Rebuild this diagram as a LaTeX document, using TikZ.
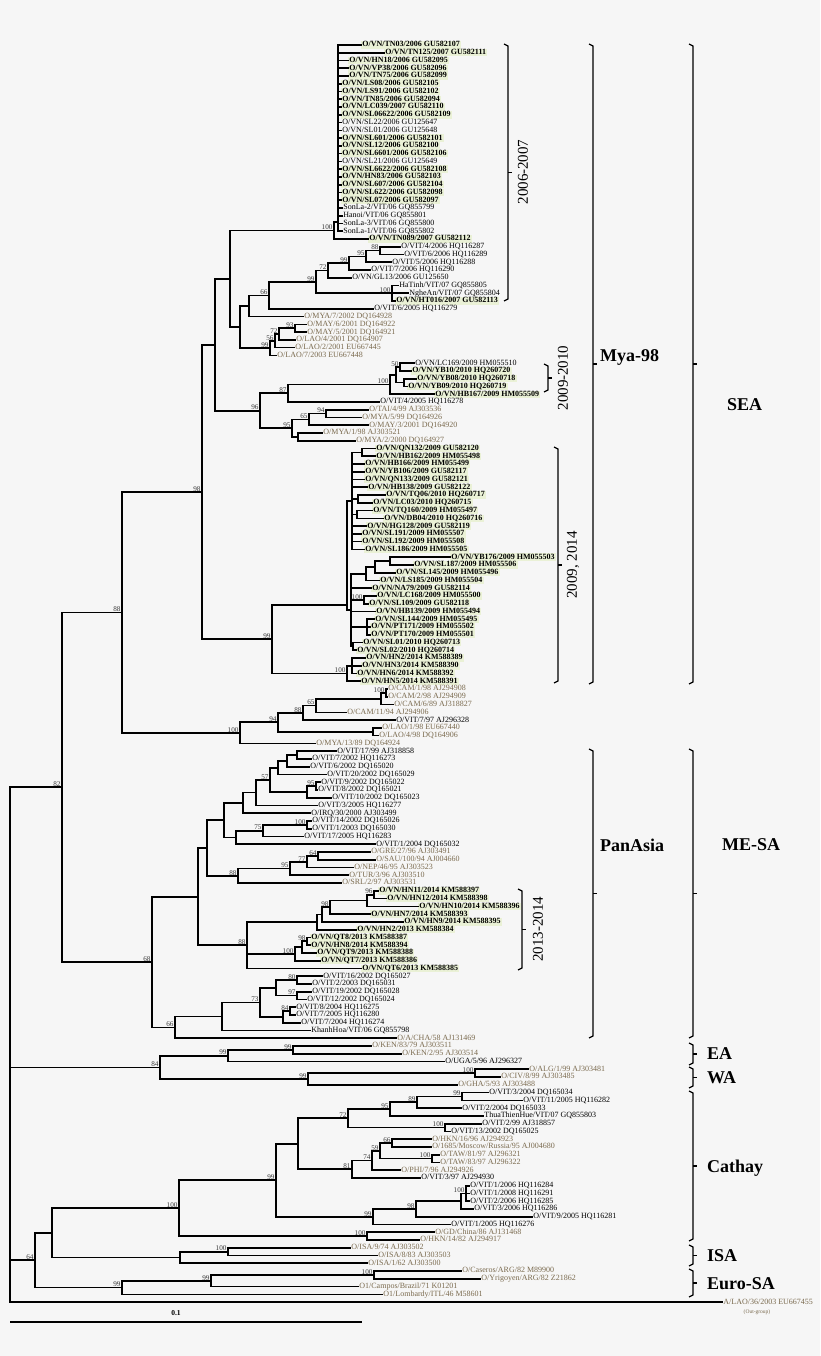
\documentclass[tikz,border=0pt]{standalone}
\usepackage{fontspec}
\setmainfont{Liberation Serif}
\usetikzlibrary{calc}
\definecolor{bg}{RGB}{246,246,246}
\definecolor{hl}{RGB}{234,241,214}
\definecolor{rf}{RGB}{122,106,78}
\definecolor{bsc}{RGB}{55,55,55}
\tikzset{
 br/.style={line width=1.7pt, line cap=rect},
 bk/.style={line width=1.3pt},
 lf/.style={anchor=west, inner xsep=1.2pt, inner ysep=0.2pt, text height=5.4pt, text depth=1.6pt, font=\fontsize{8}{8}\selectfont},
 vb/.style={lf, font=\fontsize{8}{8}\selectfont\bfseries, fill=hl},
 vk/.style={lf, text=black},
 vr/.style={lf, text=rf},
 bs/.style={anchor=south east, inner sep=0.5pt, xshift=-0.8pt, font=\fontsize{7.2}{7}\selectfont, text=bsc},
 grp/.style={anchor=west, inner sep=0pt, font=\fontsize{18}{18}\selectfont\bfseries},
 yr/.style={rotate=90, inner sep=0pt, font=\fontsize{15}{15}\selectfont}
}
\newcommand\LF[4]{\node[#4] (L#1) at (#2,{45+(#1-1)*7.76}) {#3};}
\newcommand\NDdraw[4]{%
 \draw[br] (#1 |- #2) -- (#1 |- #3);
 \foreach \c in {#4} {\draw[br] (#1 |- \c) -- (\c);}
}
\newcommand\ND[6]{%
 \path let \p1=($(#3)!.5!(#4)$) in (#2,\y1) coordinate (#1);
 \NDdraw{#1}{#3}{#4}{#5}%
 \if\relax\detokenize{#6}\relax\else\node[bs] at (#1) {#6};\fi
}
\newcommand\NDY[7]{%
 \coordinate (#1) at (#2,#3);
 \NDdraw{#1}{#4}{#5}{#6}%
 \if\relax\detokenize{#7}\relax\else\node[bs] at (#1) {#7};\fi
}
\newcommand\BRK[3]{%
 \draw[bk] (#1-4,#2) -- (#1,#2+2) -- (#1,#3-2) -- (#1-4,#3);
 \draw[bk] (#1,{(#2+#3)/2}) -- (#1+4,{(#2+#3)/2});
}
\begin{document}
\begin{tikzpicture}[x=1pt,y=-1pt]
\fill[bg] (0,0) rectangle (820,1356);
\useasboundingbox (0,0) rectangle (820,1356);
% ---------------- leaves
\LF{1}{361}{O/VN/TN03/2006 GU582107}{vb}
\LF{2}{384}{O/VN/TN125/2007 GU582111}{vb}
\LF{3}{348}{O/VN/HN18/2006 GU582095}{vb}
\LF{4}{348}{O/VN/VP38/2006 GU582096}{vb}
\LF{5}{348}{O/VN/TN75/2006 GU582099}{vb}
\LF{6}{341}{O/VN/LS08/2006 GU582105}{vb}
\LF{7}{341}{O/VN/LS91/2006 GU582102}{vb}
\LF{8}{341}{O/VN/TN85/2006 GU582094}{vb}
\LF{9}{341}{O/VN/LC039/2007 GU582110}{vb}
\LF{10}{341}{O/VN/SL06622/2006 GU582109}{vb}
\LF{11}{341}{O/VN/SL22/2006 GU125647}{vk}
\LF{12}{341}{O/VN/SL01/2006 GU125648}{vk}
\LF{13}{341}{O/VN/SL601/2006 GU582101}{vb}
\LF{14}{341}{O/VN/SL12/2006 GU582100}{vb}
\LF{15}{341}{O/VN/SL6601/2006 GU582106}{vb}
\LF{16}{341}{O/VN/SL21/2006 GU125649}{vk}
\LF{17}{341}{O/VN/SL6622/2006 GU582108}{vb}
\LF{18}{341}{O/VN/HN83/2006 GU582103}{vb}
\LF{19}{341}{O/VN/SL607/2006 GU582104}{vb}
\LF{20}{341}{O/VN/SL622/2006 GU582098}{vb}
\LF{21}{341}{O/VN/SL07/2006 GU582097}{vb}
\LF{22}{342}{SonLa-2/VIT/06 GQ855799}{vk}
\LF{23}{342}{Hanoi/VIT/06 GQ855801}{vk}
\LF{24}{342}{SonLa-3/VIT/06 GQ855800}{vk}
\LF{25}{342}{SonLa-1/VIT/06 GQ855802}{vk}
\LF{26}{368}{O/VN/TN089/2007 GU582112}{vb}
\LF{27}{400}{O/VIT/4/2006 HQ116287}{vk}
\LF{28}{403}{O/VIT/6/2006 HQ116289}{vk}
\LF{29}{391}{O/VIT/5/2006 HQ116288}{vk}
\LF{30}{370}{O/VIT/7/2006 HQ116290}{vk}
\LF{31}{351}{O/VN/GL13/2006 GU125650}{vk}
\LF{32}{398}{HaTinh/VIT/07 GQ855805}{vk}
\LF{33}{408}{NgheAn/VIT/07 GQ855804}{vk}
\LF{34}{395}{O/VN/HT016/2007 GU582113}{vb}
\LF{35}{373}{O/VIT/6/2005 HQ116279}{vk}
\LF{36}{303}{O/MYA/7/2002 DQ164928}{vr}
\LF{37}{306}{O/MAY/6/2001 DQ164922}{vr}
\LF{38}{306}{O/MAY/5/2001 DQ164921}{vr}
\LF{39}{295}{O/LAO/4/2001 DQ164907}{vr}
\LF{40}{294}{O/LAO/2/2001 EU667445}{vr}
\LF{41}{276}{O/LAO/7/2003 EU667448}{vr}
\LF{42}{414}{O/VN/LC169/2009 HM055510}{vk}
\LF{43}{411}{O/VN/YB10/2010 HQ260720}{vb}
\LF{44}{416}{O/VN/YB08/2010 HQ260718}{vb}
\LF{45}{407}{O/VN/YB09/2010 HQ260719}{vb}
\LF{46}{434}{O/VN/HB167/2009 HM055509}{vb}
\LF{47}{379}{O/VIT/4/2005 HQ116278}{vk}
\LF{48}{368}{O/TAI/4/99 AJ303536}{vr}
\LF{49}{361}{O/MYA/5/99 DQ164926}{vr}
\LF{50}{368}{O/MAY/3/2001 DQ164920}{vr}
\LF{51}{322}{O/MYA/1/98 AJ303521}{vr}
\LF{52}{355}{O/MYA/2/2000 DQ164927}{vr}
\LF{53}{375}{O/VN/QN132/2009 GU582120}{vb}
\LF{54}{375}{O/VN/HB162/2009 HM055498}{vb}
\LF{55}{364}{O/VN/HB166/2009 HM055499}{vb}
\LF{56}{364}{O/VN/YB106/2009 GU582117}{vb}
\LF{57}{364}{O/VN/QN133/2009 GU582121}{vb}
\LF{58}{367}{O/VN/HB138/2009 GU582122}{vb}
\LF{59}{385}{O/VN/TQ06/2010 HQ260717}{vb}
\LF{60}{372}{O/VN/LC03/2010 HQ260715}{vb}
\LF{61}{372}{O/VN/TQ160/2009 HM055497}{vb}
\LF{62}{383}{O/VN/DB04/2010 HQ260716}{vb}
\LF{63}{366}{O/VN/HG128/2009 GU582119}{vb}
\LF{64}{361}{O/VN/SL191/2009 HM055507}{vb}
\LF{65}{361}{O/VN/SL192/2009 HM055508}{vb}
\LF{66}{364}{O/VN/SL186/2009 HM055505}{vb}
\LF{67}{450}{O/VN/YB176/2009 HM055503}{vb}
\LF{68}{413}{O/VN/SL187/2009 HM055506}{vb}
\LF{69}{395}{O/VN/SL145/2009 HM055496}{vb}
\LF{70}{379}{O/VN/LS185/2009 HM055504}{vb}
\LF{71}{371}{O/VN/NA79/2009 GU582114}{vb}
\LF{72}{376}{O/VN/LC168/2009 HM055500}{vb}
\LF{73}{368}{O/VN/SL109/2009 GU582118}{vb}
\LF{74}{375}{O/VN/HB139/2009 HM055494}{vb}
\LF{75}{374}{O/VN/SL144/2009 HM055495}{vb}
\LF{76}{370}{O/VN/PT171/2009 HM055502}{vb}
\LF{77}{370}{O/VN/PT170/2009 HM055501}{vb}
\LF{78}{362}{O/VN/SL01/2010 HQ260713}{vb}
\LF{79}{356}{O/VN/SL02/2010 HQ260714}{vb}
\LF{80}{365}{O/VN/HN2/2014 KM588389}{vb}
\LF{81}{361}{O/VN/HN3/2014 KM588390}{vb}
\LF{82}{356}{O/VN/HN6/2014 KM588392}{vb}
\LF{83}{360}{O/VN/HN5/2014 KM588391}{vb}
\LF{84}{387}{O/CAM/1/98 AJ294908}{vr}
\LF{85}{387}{O/CAM/2/98 AJ294909}{vr}
\LF{86}{393}{O/CAM/6/89 AJ318827}{vr}
\LF{87}{346}{O/CAM/11/94 AJ294906}{vr}
\LF{88}{395}{O/VIT/7/97 AJ296328}{vk}
\LF{89}{381}{O/LAO/1/98 EU667440}{vr}
\LF{90}{378}{O/LAO/4/98 DQ164906}{vr}
\LF{91}{315}{O/MYA/13/89 DQ164924}{vr}
\LF{92}{336}{O/VIT/17/99 AJ318858}{vk}
\LF{93}{311}{O/VIT/7/2002 HQ116273}{vk}
\LF{94}{309}{O/VIT/6/2002 DQ165020}{vk}
\LF{95}{326}{O/VIT/20/2002 DQ165029}{vk}
\LF{96}{320}{O/VIT/9/2002 DQ165022}{vk}
\LF{97}{317}{O/VIT/8/2002 DQ165021}{vk}
\LF{98}{331}{O/VIT/10/2002 DQ165023}{vk}
\LF{99}{317}{O/VIT/3/2005 HQ116277}{vk}
\LF{100}{310}{O/IRQ/30/2000 AJ303499}{vk}
\LF{101}{311}{O/VIT/14/2002 DQ165026}{vk}
\LF{102}{311}{O/VIT/1/2003 DQ165030}{vk}
\LF{103}{303}{O/VIT/17/2005 HQ116283}{vk}
\LF{104}{375}{O/VIT/1/2004 DQ165032}{vk}
\LF{105}{370}{O/GRE/27/96 AJ303491}{vr}
\LF{106}{375}{O/SAU/100/94 AJ004660}{vr}
\LF{107}{353}{O/NEP/46/95 AJ303523}{vr}
\LF{108}{348}{O/TUR/3/96 AJ303510}{vr}
\LF{109}{341}{O/SRL/2/97 AJ303531}{vr}
\LF{110}{378}{O/VN/HN11/2014 KM588397}{vb}
\LF{111}{386}{O/VN/HN12/2014 KM588398}{vb}
\LF{112}{418}{O/VN/HN10/2014 KM588396}{vb}
\LF{113}{370}{O/VN/HN7/2014 KM588393}{vb}
\LF{114}{403}{O/VN/HN9/2014 KM588395}{vb}
\LF{115}{356}{O/VN/HN2/2013 KM588384}{vb}
\LF{116}{310}{O/VN/QT8/2013 KM588387}{vb}
\LF{117}{310}{O/VN/HN8/2014 KM588394}{vb}
\LF{118}{316}{O/VN/QT9/2013 KM588388}{vb}
\LF{119}{320}{O/VN/QT7/2013 KM588386}{vb}
\LF{120}{361}{O/VN/QT6/2013 KM588385}{vb}
\LF{121}{322}{O/VIT/16/2002 DQ165027}{vk}
\LF{122}{311}{O/VIT/2/2003 DQ165031}{vk}
\LF{123}{311}{O/VIT/19/2002 DQ165028}{vk}
\LF{124}{306}{O/VIT/12/2002 DQ165024}{vk}
\LF{125}{295}{O/VIT/8/2004 HQ116275}{vk}
\LF{126}{295}{O/VIT/7/2005 HQ116280}{vk}
\LF{127}{300}{O/VIT/7/2004 HQ116274}{vk}
\LF{128}{310}{KhanhHoa/VIT/06 GQ855798}{vk}
\LF{129}{396}{O/A/CHA/58 AJ131469}{vr}
\LF{130}{371}{O/KEN/83/79 AJ303511}{vr}
\LF{131}{401}{O/KEN/2/95 AJ303514}{vr}
\LF{132}{444}{O/UGA/5/96 AJ296327}{vk}
\LF{133}{528}{O/ALG/1/99 AJ303481}{vr}
\LF{134}{500}{O/CIV/8/99 AJ303485}{vr}
\LF{135}{457}{O/GHA/5/93 AJ303488}{vr}
\LF{136}{488}{O/VIT/3/2004 DQ165034}{vk}
\LF{137}{522}{O/VIT/11/2005 HQ116282}{vk}
\LF{138}{461}{O/VIT/2/2004 DQ165033}{vk}
\LF{139}{483}{ThuaThienHue/VIT/07 GQ855803}{vk}
\LF{140}{481}{O/VIT/2/99 AJ318857}{vk}
\LF{141}{450}{O/VIT/13/2002 DQ165025}{vk}
\LF{142}{431}{O/HKN/16/96 AJ294923}{vr}
\LF{143}{431}{O/1685/Moscow/Russia/95 AJ004680}{vr}
\LF{144}{439}{O/TAW/81/97 AJ296321}{vr}
\LF{145}{439}{O/TAW/83/97 AJ296322}{vr}
\LF{146}{400}{O/PHI/7/96 AJ294926}{vr}
\LF{147}{420}{O/VIT/3/97 AJ294930}{vk}
\LF{148}{469}{O/VIT/1/2006 HQ116284}{vk}
\LF{149}{469}{O/VIT/1/2008 HQ116291}{vk}
\LF{150}{469}{O/VIT/2/2006 HQ116285}{vk}
\LF{151}{473}{O/VIT/3/2006 HQ116286}{vk}
\LF{152}{532}{O/VIT/9/2005 HQ116281}{vk}
\LF{153}{450}{O/VIT/1/2005 HQ116276}{vk}
\LF{154}{434}{O/GD/China/86 AJ131468}{vr}
\LF{155}{419}{O/HKN/14/82 AJ294917}{vr}
\LF{156}{350}{O/ISA/9/74 AJ303502}{vr}
\LF{157}{377}{O/ISA/8/83 AJ303503}{vr}
\LF{158}{367}{O/ISA/1/62 AJ303500}{vr}
\LF{159}{461}{O/Caseros/ARG/82 M89900}{vr}
\LF{160}{480}{O/Yrigoyen/ARG/82 Z21862}{vr}
\LF{161}{358}{O1/Campos/Brazil/71 K01201}{vr}
\LF{162}{382}{O1/Lombardy/ITL/46 M58601}{vr}
\LF{163}{722}{A/LAO/36/2003 EU667455}{vr}
\node[font=\fontsize{5.5}{6}\selectfont, text=rf, inner sep=0pt] (og) at (757,1312) {(Out-group)};
% ---------------- Mya-98 / SEA
\NDY{PA}{338}{222}{L1}{L25}{L1,L2,L3,L4,L5,L6,L7,L8,L9,L10,L11,L12,L13,L14,L15,L16,L17,L18,L19,L20,L21,L22,L23,L24,L25}{}
\ND{NA}{334}{PA}{L26}{PA,L26}{100}
\ND{n88a}{380}{L27}{L28}{L27,L28}{88}
\ND{n95a}{366}{n88a}{L29}{n88a,L29}{95}
\ND{n99a}{349}{n95a}{L30}{n95a,L30}{99}
\ND{n72a}{328}{n99a}{L31}{n99a,L31}{72}
\ND{n100c}{392}{L32}{L34}{L32,L33,L34}{100}
\ND{n99b}{316}{n72a}{n100c}{n72a,n100c}{99}
\ND{n66a}{269}{n99b}{L35}{n99b,L35}{66}
\ND{na}{249}{n66a}{L36}{n66a,L36}{}
\ND{n93}{295}{L37}{L38}{L37,L38}{93}
\ND{n72b}{279}{n93}{L39}{n93,L39}{72}
\ND{n56}{275}{n72b}{L40}{n72b,L40}{56}
\ND{n99c}{270}{n56}{L41}{n56,L41}{99}
\ND{nb2}{240}{na}{n99c}{na,n99c}{}
\ND{nb}{230}{NA}{nb2}{NA,nb2}{}
\ND{n50}{400}{L42}{L43}{L42,L43}{50}
\ND{nX}{404}{L44}{L45}{L44,L45}{}
\ND{nY}{396}{n50}{nX}{n50,nX}{}
\ND{n100d}{390}{nY}{L46}{nY,L46}{100}
\ND{n87}{288}{n100d}{L47}{n100d,L47}{87}
\ND{n94a}{326}{L48}{L49}{L48,L49}{94}
\ND{n65a}{309}{n94a}{L50}{n94a,L50}{65}
\ND{nm}{298}{L51}{L52}{L51,L52}{}
\ND{n95b}{292}{n65a}{nm}{n65a,nm}{95}
\ND{n96a}{260}{n87}{n95b}{n87,n95b}{96}
\ND{nc}{215}{nb}{n96a}{nb,n96a}{}
\ND{nA1}{362}{L53}{L54}{L53,L54}{}
\ND{nA2}{358}{L59}{L60}{L59,L60}{}
\ND{nA3}{357}{L61}{L62}{L61,L62}{}
\ND{nA}{352}{nA1}{L66}{nA1,L55,L56,L57,L58,nA2,nA3,L63,L64,L65,L66}{}
\ND{nB1}{390}{L67}{L68}{L67,L68}{}
\ND{nB2}{375}{nB1}{L69}{nB1,L69}{}
\ND{nB3}{366}{nB2}{L70}{nB2,L70}{}
\ND{nB4}{364}{L72}{L73}{L72,L73}{100}
\ND{nB5}{367}{L75}{L77}{L75,L76,L77}{}
\ND{nB6}{353}{L78}{L79}{L78,L79}{}
\ND{nB}{351}{nB3}{nB6}{nB3,L71,nB4,L74,nB5,nB6}{}
\NDY{n2009}{347}{605}{nA}{nB}{nA,nB}{}
\ND{nC1}{352}{L80}{L82}{L80,L81,L82}{}
\ND{n2014}{347}{nC1}{L83}{nC1,L83}{100}
\ND{n99d}{272}{n2009}{n2014}{n2009,n2014}{99}
\ND{n98}{202}{nc}{n99d}{nc,n99d}{98}
\ND{nCC}{386}{L84}{L85}{L84,L85}{100}
\ND{n100e}{381}{nCC}{L86}{nCC,L86}{}
\ND{n65c}{316}{n100e}{L87}{n100e,L87}{65}
\ND{n88b}{303}{n65c}{L88}{n65c,L88}{88}
\ND{nLAO}{373}{L89}{L90}{L89,L90}{}
\ND{n94c}{278}{n88b}{nLAO}{n88b,nLAO}{94}
\ND{nCAM}{240}{n94c}{L91}{n94c,L91}{100}
\ND{n88}{122}{n98}{nCAM}{n98,nCAM}{88}
% ---------------- PanAsia
\ND{np1}{297}{L92}{L93}{L92,L93}{}
\ND{np2}{287}{np1}{L94}{np1,L94}{}
\ND{np3}{278}{np2}{L95}{np2,L95}{}
\ND{n95c}{316}{L96}{L97}{L96,L97}{95}
\ND{np4}{307}{n95c}{L98}{n95c,L98}{}
\ND{n57}{270}{np3}{np4}{np3,np4}{57}
\ND{np5}{256}{n57}{L99}{n57,L99}{}
\ND{np6}{243}{np5}{L100}{np5,L100}{}
\ND{n100f}{307}{L101}{L102}{L101,L102}{100}
\ND{n75}{263}{n100f}{L103}{n100f,L103}{75}
\ND{np7}{236}{n75}{L104}{n75,L104}{}
\ND{np8}{224}{np6}{np7}{np6,np7}{}
\ND{n64b}{318}{L105}{L106}{L105,L106}{64}
\ND{n77}{307}{n64b}{L107}{n64b,L107}{77}
\ND{n95d}{290}{n77}{L108}{n77,L108}{95}
\ND{n88c}{238}{n95d}{L109}{n95d,L109}{88}
\ND{np9}{207}{np8}{n88c}{np8,n88c}{}
\ND{n96q}{374}{L110}{L111}{L110,L111}{96}
\ND{nq1}{367}{n96q}{L112}{n96q,L112}{}
\ND{n98q}{330}{nq1}{L113}{nq1,L113}{98}
\ND{nq3}{322}{n98q}{L114}{n98q,L114}{}
\ND{nq4}{317}{nq3}{L115}{nq3,L115}{}
\ND{n98r}{307}{L116}{L117}{L116,L117}{98}
\ND{nr2}{302}{n98r}{L118}{n98r,L118}{}
\ND{n100g}{295}{nr2}{L119}{nr2,L119}{100}
\ND{n88d}{247}{nq4}{L120}{nq4,n100g,L120}{88}
\ND{np10}{198}{np9}{n88d}{np9,n88d}{}
\ND{n80}{297}{L121}{L122}{L121,L122}{80}
\ND{n97}{297}{L123}{L124}{L123,L124}{97}
\ND{ns1}{276}{n80}{n97}{n80,n97}{}
\ND{n84}{290}{L125}{L126}{L125,L126}{84}
\ND{ns2}{283}{n84}{L127}{n84,L127}{}
\ND{n73}{260}{ns1}{ns2}{ns1,ns2}{73}
\ND{ns4}{222}{n73}{L128}{n73,L128}{}
\ND{n66p}{175}{ns4}{L129}{ns4,L129}{66}
\ND{n68}{152}{np10}{n66p}{np10,n66p}{68}
\ND{n82}{62}{n88}{n68}{n88,n68}{82}
% ---------------- EA / WA
\ND{n99ea}{293}{L130}{L131}{L130,L131}{99}
\ND{nEA}{228}{n99ea}{L132}{n99ea,L132}{99}
\ND{n100w}{475}{L133}{L134}{L133,L134}{100}
\ND{nWA}{308}{n100w}{L135}{n100w,L135}{99}
\ND{nEAWA}{160}{nEA}{nWA}{nEA,nWA}{84}
% ---------------- Cathay
\ND{n99k}{462}{L136}{L137}{L136,L137}{99}
\ND{n89}{417}{n99k}{L138}{n99k,L138}{89}
\ND{n95e}{390}{n89}{L139}{n89,L139}{95}
\ND{n100h}{445}{L140}{L141}{L140,L141}{100}
\ND{n72c}{348}{n95e}{n100h}{n95e,n100h}{72}
\ND{n66c}{392}{L142}{L143}{L142,L143}{66}
\ND{nTAW}{432}{L144}{L145}{L144,L145}{100}
\ND{n59}{380}{n66c}{nTAW}{n66c,nTAW}{59}
\ND{n74}{372}{n59}{L146}{n59,L146}{74}
\ND{n81}{352}{n74}{L147}{n74,L147}{81}
\ND{nt2}{298}{n72c}{n81}{n72c,n81}{}
\ND{n100u}{466}{L148}{L150}{L148,L149,L150}{100}
\ND{nu2}{461}{n100u}{L151}{n100u,L151}{}
\ND{n98u}{416}{nu2}{L152}{nu2,L152}{98}
\ND{n99j}{373}{n98u}{L153}{n98u,L153}{99}
\ND{n99i}{276}{nt2}{n99j}{nt2,n99j}{99}
\ND{nGD}{367}{L154}{L155}{L154,L155}{100}
\ND{nCat}{179}{n99i}{nGD}{n99i,nGD}{100}
\ND{nI100}{228}{L156}{L157}{L156,L157}{100}
\ND{nISA}{180}{nI100}{L158}{nI100,L158}{}
\ND{n46}{52}{nCat}{nISA}{nCat,nISA}{}
\ND{nES1}{374}{L159}{L160}{L159,L160}{100}
\ND{nES2}{211}{nES1}{L161}{nES1,L161}{99}
\ND{nES3}{122}{nES2}{L162}{nES2,L162}{99}
\ND{n64}{35}{n46}{nES3}{n46,nES3}{64}
\ND{root}{10}{n82}{L163}{n82,nEAWA,n64,L163}{}
% ---------------- brackets and group labels
\BRK{508}{44}{301}
\node[yr] (t1) at (523,172) {2006-2007};
\BRK{548}{364}{392}
\node[yr] (t2) at (563,378) {2009-2010};
\BRK{558}{447}{683}
\node[yr] (t3) at (573,565) {2009, 2014};
\BRK{522}{889}{970}
\node[yr] (t4) at (538,929) {2013-2014};
\BRK{593}{44}{684}
\node[grp] (g1) at (600,357) {Mya-98};
\BRK{593}{749}{1038}
\node[grp] (g2) at (600,845) {PanAsia};
\BRK{693}{44}{684}
\node[grp] (g3) at (727,405) {SEA};
\BRK{693}{749}{1038}
\node[grp] (g4) at (722,845) {ME-SA};
\BRK{693}{1043}{1065}
\node[grp] (g5) at (707,1054) {EA};
\BRK{693}{1067}{1088}
\node[grp] (g6) at (707,1078) {WA};
\BRK{693}{1091}{1241}
\node[grp] (g7) at (707,1168) {Cathay};
\BRK{693}{1245}{1266}
\node[grp] (g8) at (707,1256) {ISA};
\BRK{693}{1269}{1297}
\node[grp] (g9) at (707,1284) {Euro-SA};
% ---------------- scale bar
\coordinate (s0) at (10,1322);
\coordinate (s1) at (362,1322);
\draw[line width=1.8pt] (s0) -- (s1);
\node[font=\fontsize{7.5}{8}\selectfont\bfseries, inner sep=0pt] (sc) at (176,1313) {0.1};
\end{tikzpicture}
\end{document}
